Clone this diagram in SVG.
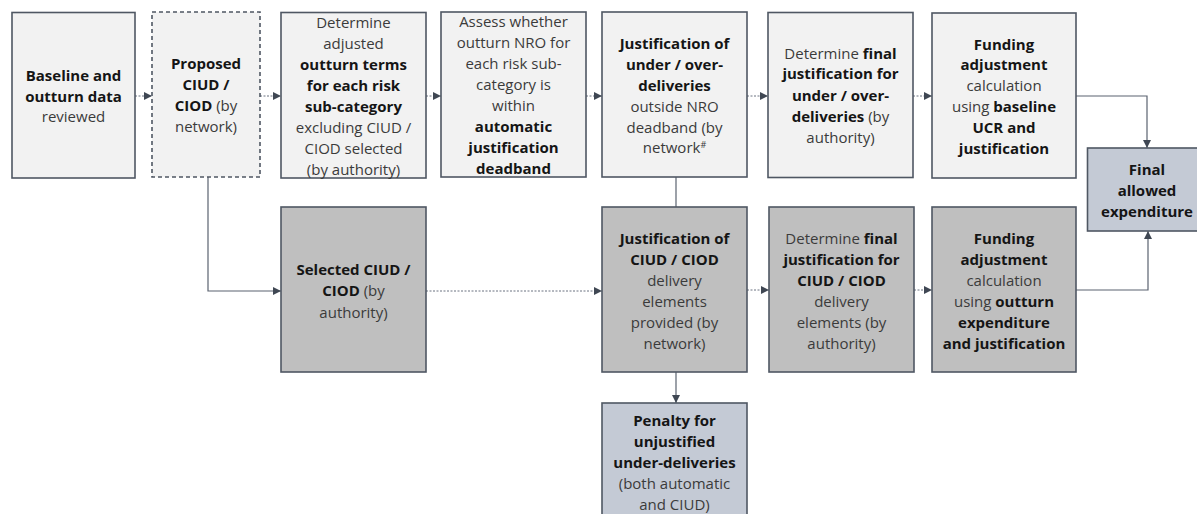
<svg xmlns="http://www.w3.org/2000/svg" width="1197" height="514" viewBox="0 0 1197 514">
<defs>
<marker id="ah" viewBox="0 0 10 10" refX="10" refY="5" markerWidth="8" markerHeight="8" markerUnits="userSpaceOnUse" orient="auto">
<path d="M0,0 L10,5 L0,10 z" fill="#3f4753"/>
</marker>
<style>
.lt{fill:#f2f2f2;stroke:#4f5763;stroke-width:1.6}
.dk{fill:#bfbfbf;stroke:#4f5763;stroke-width:1.6}
.bl{fill:#c4cad5;stroke:#4f5763;stroke-width:1.6}
.ds{fill:#f2f2f2;stroke:#4f5763;stroke-width:1.6;stroke-dasharray:4 3}
text{font-family:"Open Sans","Liberation Sans",sans-serif;font-size:15px;fill:#3b3b3b;text-anchor:middle}
.b{font-weight:bold;fill:#151515}
.dot{fill:none;stroke:#6b7280;stroke-width:1;stroke-dasharray:2 1.5}
.sol{fill:none;stroke:#5b6370;stroke-width:1.2}
</style>
</defs>
<g id="connectors">
<line class="dot" x1="135" y1="96" x2="152" y2="96" marker-end="url(#ah)"/>
<line class="dot" x1="260" y1="96" x2="281" y2="96" marker-end="url(#ah)"/>
<line class="dot" x1="426" y1="96" x2="441" y2="96" marker-end="url(#ah)"/>
<line class="dot" x1="586" y1="96" x2="602" y2="96" marker-end="url(#ah)"/>
<line class="dot" x1="747" y1="96" x2="768" y2="96" marker-end="url(#ah)"/>
<line class="dot" x1="913" y1="96" x2="932" y2="96" marker-end="url(#ah)"/>
<polyline class="sol" points="1076,96 1147,96 1147,148" marker-end="url(#ah)"/>
<polyline class="sol" points="208,177 208,291 281,291" marker-end="url(#ah)"/>
<line class="dot" x1="426" y1="291" x2="602" y2="291" marker-end="url(#ah)"/>
<line class="sol" x1="676" y1="177" x2="676" y2="207"/>
<line class="dot" x1="747" y1="290" x2="769" y2="290" marker-end="url(#ah)"/>
<line class="dot" x1="914" y1="290" x2="932" y2="290" marker-end="url(#ah)"/>
<polyline class="sol" points="1076,290 1148,290 1148,231" marker-end="url(#ah)"/>
<line class="sol" x1="676" y1="372" x2="676" y2="403" marker-end="url(#ah)"/>
</g>
<g id="n1">
<rect class="lt" x="12" y="12.5" width="123" height="165.5"/>
<text x="73.5" y="81"><tspan class="b">Baseline and</tspan></text>
<text x="73.5" y="102"><tspan class="b">outturn data</tspan></text>
<text x="73.5" y="122">reviewed</text>
</g>
<g id="n2">
<rect class="ds" x="152" y="12" width="108" height="165"/>
<text x="206" y="69"><tspan class="b">Proposed</tspan></text>
<text x="206" y="90"><tspan class="b">CIUD /</tspan></text>
<text x="206" y="111"><tspan class="b">CIOD</tspan> (by</text>
<text x="206" y="132">network)</text>
</g>
<g id="n3">
<rect class="lt" x="281" y="12.5" width="145" height="165.5"/>
<text x="353.5" y="28">Determine</text>
<text x="353.5" y="48.5">adjusted</text>
<text x="353.5" y="69.5"><tspan class="b">outturn terms</tspan></text>
<text x="353.5" y="90.5"><tspan class="b">for each risk</tspan></text>
<text x="353.5" y="111.5"><tspan class="b">sub-category</tspan></text>
<text x="353.5" y="132.5">excluding CIUD /</text>
<text x="353.5" y="153.5">CIOD selected</text>
<text x="353.5" y="174.5">(by authority)</text>
</g>
<g id="n4">
<rect class="lt" x="441" y="12" width="145" height="165"/>
<text x="513.5" y="27">Assess whether</text>
<text x="513.5" y="48">outturn NRO for</text>
<text x="513.5" y="69">each risk sub-</text>
<text x="513.5" y="90">category is</text>
<text x="513.5" y="111">within</text>
<text x="513.5" y="132"><tspan class="b">automatic</tspan></text>
<text x="513.5" y="152.5"><tspan class="b">justification</tspan></text>
<text x="513.5" y="173.5"><tspan class="b">deadband</tspan></text>
</g>
<g id="n5">
<rect class="lt" x="602" y="12" width="145" height="165"/>
<text x="674.5" y="48.5"><tspan class="b">Justification of</tspan></text>
<text x="674.5" y="69.5"><tspan class="b">under / over-</tspan></text>
<text x="674.5" y="90.5"><tspan class="b">deliveries</tspan></text>
<text x="674.5" y="111.5">outside NRO</text>
<text x="674.5" y="132.5">deadband (by</text>
<text x="674.5" y="153">network<tspan font-size="9" dy="-5">#</tspan></text>
</g>
<g id="n6">
<rect class="lt" x="768" y="12.5" width="145" height="165"/>
<text x="840.5" y="58.5">Determine <tspan class="b">final</tspan></text>
<text x="840.5" y="79"><tspan class="b">justification for</tspan></text>
<text x="840.5" y="100.5"><tspan class="b">under / over-</tspan></text>
<text x="840.5" y="121.5"><tspan class="b">deliveries</tspan> (by</text>
<text x="840.5" y="142.5">authority)</text>
</g>
<g id="n7">
<rect class="lt" x="932" y="13" width="144" height="165"/>
<text x="1004" y="49.5"><tspan class="b">Funding</tspan></text>
<text x="1004" y="70"><tspan class="b">adjustment</tspan></text>
<text x="1004" y="91">calculation</text>
<text x="1004" y="112">using <tspan class="b">baseline</tspan></text>
<text x="1004" y="132.5"><tspan class="b">UCR and</tspan></text>
<text x="1004" y="153.5"><tspan class="b">justification</tspan></text>
</g>
<g id="n8">
<rect class="bl" x="1087.5" y="148" width="120" height="83"/>
<text x="1147" y="175"><tspan class="b">Final</tspan></text>
<text x="1147" y="196"><tspan class="b">allowed</tspan></text>
<text x="1147" y="217"><tspan class="b">expenditure</tspan></text>
</g>
<g id="n9">
<rect class="dk" x="281" y="207" width="145" height="165"/>
<text x="353.5" y="274.5"><tspan class="b">Selected CIUD /</tspan></text>
<text x="353.5" y="296"><tspan class="b">CIOD</tspan> (by</text>
<text x="353.5" y="318">authority)</text>
</g>
<g id="n10">
<rect class="dk" x="602" y="207" width="145" height="165"/>
<text x="674.5" y="243.5"><tspan class="b">Justification of</tspan></text>
<text x="674.5" y="264.5"><tspan class="b">CIUD / CIOD</tspan></text>
<text x="674.5" y="286">delivery</text>
<text x="674.5" y="307">elements</text>
<text x="674.5" y="328">provided (by</text>
<text x="674.5" y="348.5">network)</text>
</g>
<g id="n11">
<rect class="dk" x="769" y="207" width="145" height="165"/>
<text x="841.5" y="243.5">Determine <tspan class="b">final</tspan></text>
<text x="841.5" y="264.5"><tspan class="b">justification for</tspan></text>
<text x="841.5" y="286"><tspan class="b">CIUD / CIOD</tspan></text>
<text x="841.5" y="307">delivery</text>
<text x="841.5" y="328">elements (by</text>
<text x="841.5" y="348.5">authority)</text>
</g>
<g id="n12">
<rect class="dk" x="932" y="207" width="144" height="165"/>
<text x="1004" y="243.5"><tspan class="b">Funding</tspan></text>
<text x="1004" y="264.5"><tspan class="b">adjustment</tspan></text>
<text x="1004" y="286">calculation</text>
<text x="1004" y="307">using <tspan class="b">outturn</tspan></text>
<text x="1004" y="328"><tspan class="b">expenditure</tspan></text>
<text x="1004" y="348.5"><tspan class="b">and justification</tspan></text>
</g>
<g id="n13">
<rect class="bl" x="602" y="403" width="145" height="120"/>
<text x="674.5" y="426"><tspan class="b">Penalty for</tspan></text>
<text x="674.5" y="447"><tspan class="b">unjustified</tspan></text>
<text x="674.5" y="468"><tspan class="b">under-deliveries</tspan></text>
<text x="674.5" y="489">(both automatic</text>
<text x="674.5" y="510">and CIUD)</text>
</g>
</svg>
